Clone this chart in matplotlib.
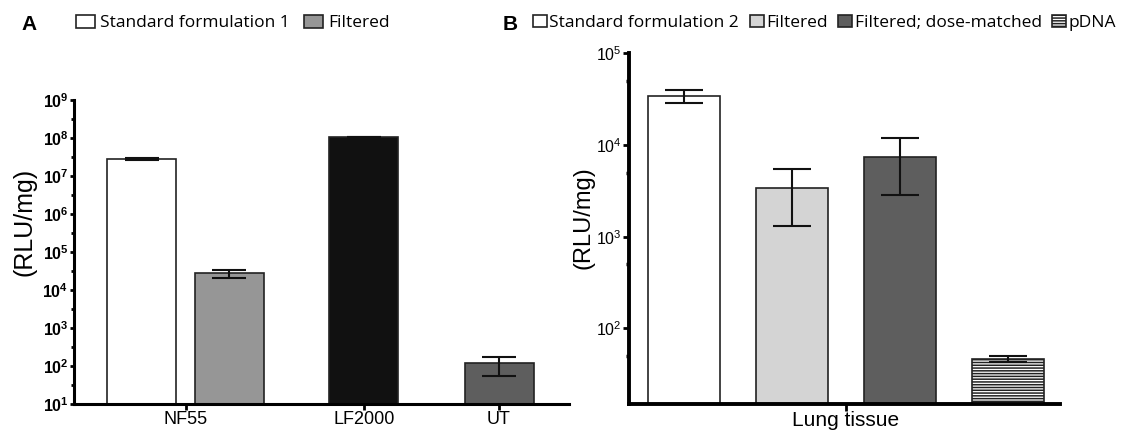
import matplotlib
matplotlib.use('Agg')
import matplotlib.pyplot as plt
import numpy as np
from matplotlib.ticker import LogLocator, FuncFormatter, NullFormatter

plt.rcParams['mathtext.fontset'] = 'custom'
plt.rcParams['mathtext.rm'] = 'Liberation Sans'
plt.rcParams['mathtext.bf'] = 'Liberation Sans:bold'
plt.rcParams['hatch.linewidth'] = 1.1
plt.rcParams['hatch.color'] = 'black'

# ---------------- Panel A data ----------------
a_categories = ['NF55', 'LF2000', 'UT']
a_bar_names = ['Standard formulation 1', 'Filtered', 'LF2000', 'UT']
a_values = [2.8e7, 2.8e4, 1.07e8, 120]
a_err_low = [2.6e7, 2.1e4, 1.05e8, 55]
a_err_high = [3.0e7, 3.4e4, 1.09e8, 172]
a_yticks = [1e1, 1e2, 1e3, 1e4, 1e5, 1e6, 1e7, 1e8, 1e9]

# ---------------- Panel B data ----------------
b_category = ['Lung tissue']
b_series = ['Standard formulation 2', 'Filtered', 'Filtered; dose-matched', 'pDNA']
b_values = [3.43e4, 3.39e3, 7.4e3, 46]
b_err_low = [2.89e4, 1.30e3, 2.85e3, 43]
b_err_high = [3.98e4, 5.47e3, 1.19e4, 49.5]
b_yticks = [1e2, 1e3, 1e4, 1e5]

# ---------------- styles / layout ----------------
a_colors = ['white', '#969696', '#111111', '#5e5e5e']
b_colors = ['white', '#d4d4d4', '#5e5e5e', 'white']
b_hatches = [None, None, None, '------']
a_pos = [0.98, 2.25, 4.20, 6.16]
a_tick_pos = [1.62, 4.20, 6.16]
b_pos = [0.76 + 1.5 * i for i in range(4)]

W, H = 1126, 433
fig = plt.figure(figsize=(W / 100, H / 100), dpi=100)

def px_axes(x0, x1, y_top, y_bot):
    return fig.add_axes([x0 / W, 1 - y_bot / H, (x1 - x0) / W, (y_bot - y_top) / H])

axA = px_axes(74, 569, 100, 404)
axB = px_axes(629, 1060, 53.5, 404)

# ---- Panel A ----
a_ylim = (1e1, 1e9)
barsA = []
for i in range(4):
    b = axA.bar(a_pos[i], a_values[i] - a_ylim[0], bottom=a_ylim[0], width=1.0,
                color=a_colors[i], edgecolor='#222222', linewidth=1.2,
                label=a_bar_names[i], zorder=2)
    barsA.append(b)
yerrA = [np.array(a_values) - np.array(a_err_low), np.array(a_err_high) - np.array(a_values)]
axA.errorbar(a_pos, a_values, yerr=yerrA, fmt='none', ecolor='#111111',
             elinewidth=1.5, capsize=12.5, capthick=1.5, zorder=3)
axA.set_yscale('log')
axA.set_ylim(*a_ylim)
axA.set_xlim(0, 495 / 69)
axA.set_yticks(a_yticks)
axA.yaxis.set_major_formatter(FuncFormatter(
    lambda v, p: r'$\mathbf{10^{%d}}$' % int(round(np.log10(v)))))
axA.yaxis.set_minor_locator(LogLocator(base=10, subs=(3.16,)))
axA.yaxis.set_minor_formatter(NullFormatter())
axA.set_xticks(a_tick_pos)
axA.set_xticklabels(a_categories, fontfamily='Liberation Sans', fontsize=13)
for s in ['top', 'right']:
    axA.spines[s].set_visible(False)
for s in ['left', 'bottom']:
    axA.spines[s].set_linewidth(2.2)
axA.tick_params(axis='y', which='major', direction='out', length=3, width=2, labelsize=11.5, pad=1)
axA.tick_params(axis='y', which='minor', direction='out', length=2.5, width=2)
axA.tick_params(axis='x', which='major', direction='out', length=4, width=2, pad=1)

# ---- Panel B ----
b_ylim = (15, 1e5)
for i in range(4):
    axB.bar(b_pos[i], b_values[i] - b_ylim[0], bottom=b_ylim[0], width=1.0,
            color=b_colors[i], edgecolor='#222222', linewidth=1.2,
            hatch=b_hatches[i], label=b_series[i], zorder=2)
yerrB = [np.array(b_values) - np.array(b_err_low), np.array(b_err_high) - np.array(b_values)]
axB.errorbar(b_pos, b_values, yerr=yerrB, fmt='none', ecolor='#111111',
             elinewidth=1.5, capsize=13.5, capthick=1.5, zorder=3)
axB.set_yscale('log')
axB.set_ylim(*b_ylim)
axB.set_xlim(0, 431 / 72)
axB.set_yticks(b_yticks)
axB.yaxis.set_major_formatter(FuncFormatter(
    lambda v, p: r'$\mathrm{10^{%d}}$' % int(round(np.log10(v)))))
axB.yaxis.set_minor_locator(LogLocator(base=10, subs=(5.0,)))
axB.yaxis.set_minor_formatter(NullFormatter())
axB.set_xticks([np.mean(b_pos)])
axB.set_xticklabels(b_category, fontfamily='Liberation Sans', fontsize=15)
for s in ['top', 'right']:
    axB.spines[s].set_visible(False)
for s in ['left', 'bottom']:
    axB.spines[s].set_linewidth(2.8)
axB.tick_params(axis='y', which='major', direction='out', length=4, width=2, labelsize=11.5, pad=1)
axB.tick_params(axis='y', which='minor', direction='out', length=2.5, width=2.5)
axB.tick_params(axis='x', which='major', direction='out', length=5, width=2, pad=0)

# ---- y labels ----
fig.text(24 / W, 1 - 222 / H, '(RLU/mg)', rotation=90, ha='center', va='center',
         fontsize=18, fontfamily='Liberation Sans')
fig.text(583 / W, 1 - 218 / H, '(RLU/mg)', rotation=90, ha='center', va='center',
         fontsize=17, fontfamily='Liberation Sans')

# ---- panel letters ----
fig.text(29 / W, 1 - 24 / H, 'A', fontsize=15, fontweight='bold', ha='center', va='center',
         fontfamily='Liberation Sans')
fig.text(510 / W, 1 - 24 / H, 'B', fontsize=15, fontweight='bold', ha='center', va='center',
         fontfamily='Liberation Sans')

# ---- legends ----
legfont = {'family': 'Open Sans', 'size': 12.5}
axA.legend(handles=[barsA[0], barsA[1]], labels=a_bar_names[:2], ncol=2, frameon=False,
           loc='center left', bbox_to_anchor=(76 / W, 1 - 23 / H), bbox_transform=fig.transFigure,
           borderpad=0, borderaxespad=0, handlelength=1.1, handleheight=0.75,
           handletextpad=0.3, columnspacing=0.8, prop=legfont)
axB.legend(ncol=4, frameon=False,
           loc='center left', bbox_to_anchor=(533 / W, 1 - 23 / H), bbox_transform=fig.transFigure,
           borderpad=0, borderaxespad=0, handlelength=0.8, handleheight=0.7,
           handletextpad=0.15, columnspacing=0.6, prop=legfont)

fig.savefig('out.png', dpi=100)
